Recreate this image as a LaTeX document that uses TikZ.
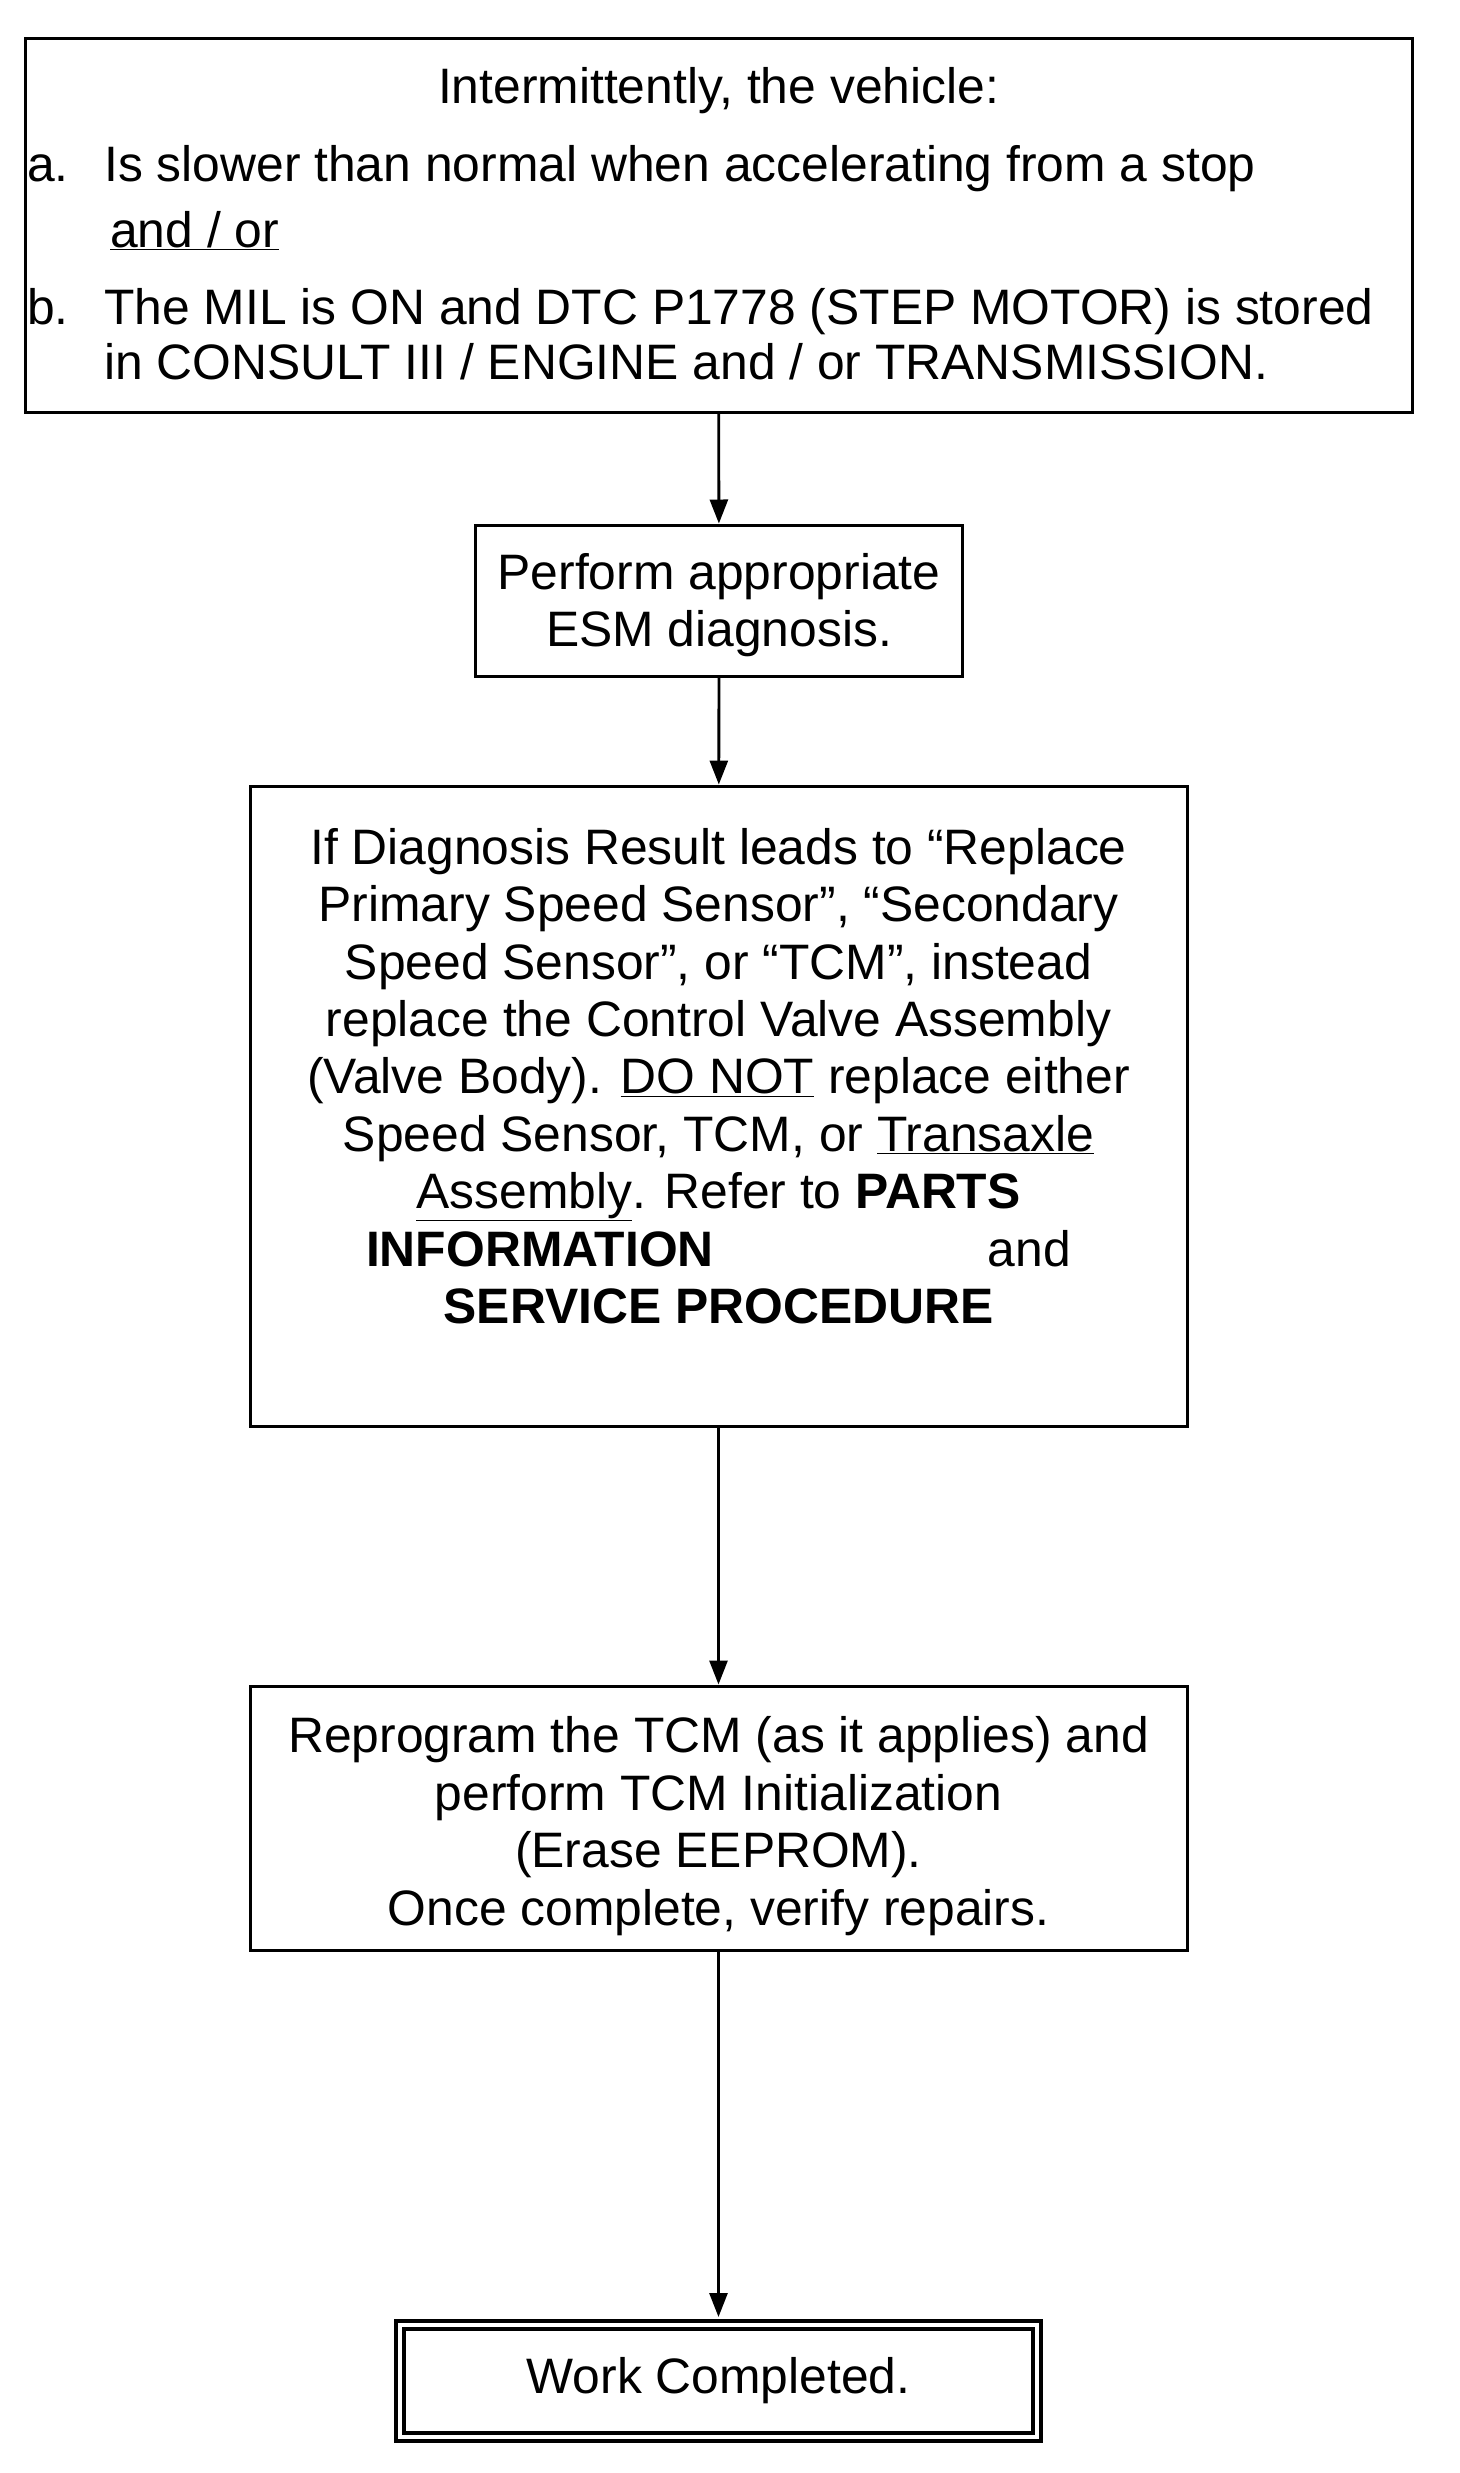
\documentclass[tikz,border=0pt]{standalone}
\usepackage{fontspec}
\setmainfont{Liberation Sans}
\usetikzlibrary{arrows.meta}

\tikzset{
  box/.style={draw, line width=3pt, inner sep=0pt},
  txt/.style={inner sep=0pt, align=center},
  final/.style={draw, double, double distance=4pt, line width=4pt, inner sep=0pt},
  flow/.style={line width=2.8pt, -{Triangle[length=24pt,width=18pt]}},
}

\begin{document}
\begin{tikzpicture}[x=1pt, y=-1pt, font=\fontsize{49.8pt}{57.4pt}\selectfont]
  \useasboundingbox (0,0) rectangle (1459,2473);

  % symptom
  \node[box, minimum width=1387pt, minimum height=373pt] (start) at (718.5,225.5) {};
  \node[txt, anchor=base] (title) at (718.5,103) {Intermittently, the vehicle:};
  \node[txt, anchor=base west] (ia) at (27,181) {a.};
  \node[txt, anchor=base west] (ta) at (104,181) {Is slower than normal when accelerating from a stop};
  \node[txt, anchor=base west] (andor) at (110,247) {\underline{and / or}};
  \node[txt, anchor=base west] (ib) at (27,324) {b.};
  \node[txt, anchor=base west] (tb) at (104,324) {The MIL is ON and DTC P1778 (STEP MOTOR) is stored};
  \node[txt, anchor=base west] (tc) at (104,379) {in CONSULT III / ENGINE and / or TRANSMISSION.};

  \node[box, minimum width=487pt, minimum height=151pt] (esm) at (719,600.5) {};
  \node[txt] (esmtext) at (719,605) {Perform appropriate\\ESM diagnosis.};

  \node[box, minimum width=937pt, minimum height=640pt] (diag) at (718.5,1106) {};
  \node[txt] (diagtext) at (718.5,1076) {If Diagnosis Result leads to “Replace\\
    Primary Speed Sensor”, “Secondary\\
    Speed Sensor”, or “TCM”, instead\\
    replace the Control Valve Assembly\\
    (Valve Body). \underline{DO NOT} replace either\\
    Speed Sensor, TCM, or \underline{Transaxle}\\
    \underline{Assembly}. Refer to \textbf{PARTS}\\
    \textbf{INFORMATION}\hspace{274pt}and\\
    \textbf{SERVICE PROCEDURE}};

  \node[box, minimum width=937pt, minimum height=264pt] (tcm) at (718.5,1818) {};
  \node[txt] (tcmtext) at (718.5,1826)
    {Reprogram the TCM (as it applies) and\\
     perform TCM Initialization\\
     (Erase EEPROM).\\
     Once complete, verify repairs.};

  \node[final, minimum width=637pt, minimum height=112pt] (done) at (718.5,2381) {Work Completed.};

  \draw[flow] (start) -- (esm);
  \draw[flow] (esm) -- (diag);
  \draw[flow] (diag) -- (tcm);
  \draw[flow, shorten >=6pt] (tcm) -- (done);
\end{tikzpicture}
\end{document}
